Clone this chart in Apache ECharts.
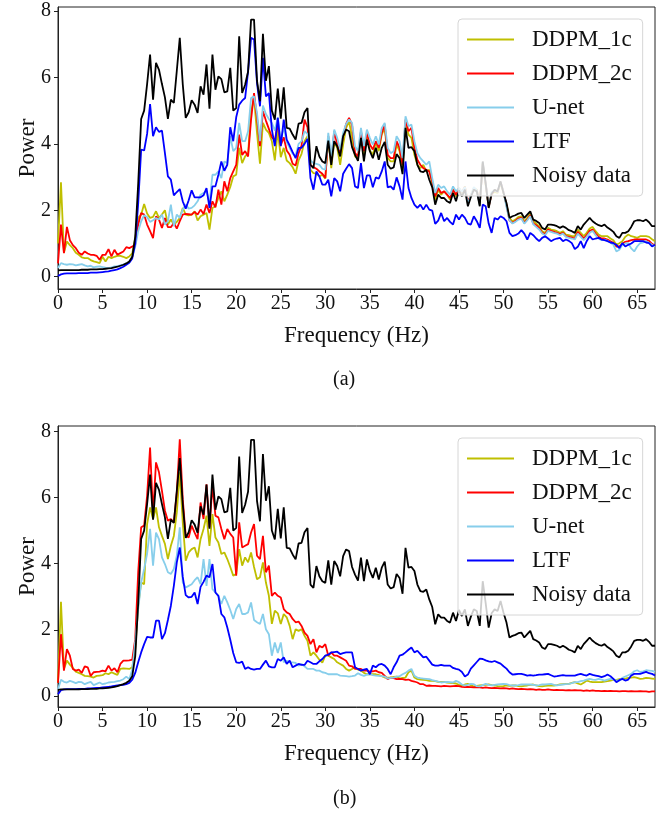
<!DOCTYPE html>
<html>
<head>
<meta charset="utf-8">
<script src="https://cdn.jsdelivr.net/npm/echarts@6/dist/echarts.min.js"></script>
<style>
html,body{margin:0;padding:0;background:#fff;}
#chart{width:671px;height:818px;}
</style>
</head>
<body>
<div id="chart"></div>
<script>
// Frequency grid: spectrum sampled every 1/3 Hz from 0 to 67 Hz (202 bins)
const FREQ_STEP_HZ = 1 / 3;
const N_BINS = 202;

const seriesNames = ['DDPM_1c', 'DDPM_2c', 'U-net', 'LTF', 'Noisy data'];
const xTicks = [0, 5, 10, 15, 20, 25, 30, 35, 40, 45, 50, 55, 60, 65];
const yTicks = [0, 2, 4, 6, 8];
const captions = ['(a)', '(b)'];

// Noisy data (same in both panels)
const noisy = [
0.19,0.2,0.2,0.2,0.2,0.2,0.2,0.2,0.21,0.21,
0.21,0.22,0.22,0.22,0.23,0.23,0.24,0.25,0.26,0.28,
0.3,0.33,0.36,0.4,0.46,0.6,1.2,2.8,4.75,5.0,
5.8,6.69,5.33,6.44,6.23,5.8,5.4,4.75,5.33,5.23,
6.2,7.19,5.8,4.78,4.95,5.31,5.18,4.93,5.73,5.48,
6.39,5.06,6.69,5.63,6.03,5.95,5.55,5.58,6.29,5.0,
5.08,7.24,5.53,5.78,6.18,7.74,7.74,5.9,5.28,7.31,
5.9,6.34,5.0,4.73,5.66,4.76,5.7,4.48,4.46,4.28,
4.13,4.61,4.63,4.95,5.08,3.37,3.27,3.93,3.62,3.47,
3.42,4.1,3.37,4.08,3.93,3.62,4.23,4.43,4.38,3.9,
3.67,3.49,4.18,3.47,4.13,3.78,3.57,3.88,3.52,3.88,
4.06,3.37,3.25,3.29,3.69,3.57,3.09,4.48,3.88,3.9,
3.78,3.37,3.17,3.15,3.22,2.92,2.69,2.17,2.47,2.37,
2.37,2.27,2.22,2.52,2.27,2.6,2.42,2.62,2.12,2.4,
2.62,2.57,2.12,3.47,2.8,2.07,2.5,2.62,2.57,2.87,
2.52,2.22,1.77,1.82,1.85,1.9,1.92,1.77,1.87,1.97,
1.72,1.68,1.62,1.47,1.42,1.57,1.57,1.55,1.52,1.47,
1.52,1.47,1.4,1.37,1.32,1.52,1.42,1.57,1.67,1.77,
1.67,1.6,1.55,1.52,1.57,1.48,1.42,1.35,1.22,1.17,
1.32,1.32,1.37,1.5,1.67,1.7,1.7,1.67,1.72,1.64,
1.52,1.52];

// Panel (a)
const ddpm1cA = [
1.0,2.84,0.72,1.06,0.95,0.86,0.72,0.66,0.58,0.56,
0.56,0.5,0.46,0.44,0.41,0.6,0.46,0.6,0.56,0.6,
0.63,0.63,0.6,0.56,0.61,0.7,1.16,1.77,1.87,2.19,
1.9,1.77,1.8,1.97,1.77,1.87,2.0,1.57,1.72,1.57,
1.65,1.77,2.07,1.87,1.85,1.87,1.97,1.69,1.82,1.87,
1.92,1.42,2.07,2.12,2.37,2.57,2.27,2.47,2.7,3.02,
3.07,3.88,3.42,3.62,3.72,4.98,5.38,4.33,3.4,4.63,
4.43,4.33,4.08,3.5,4.4,3.6,3.88,3.5,3.42,3.3,
3.1,3.5,3.7,4.08,4.23,3.22,3.12,3.1,3.02,3.07,
2.95,4.18,3.27,4.05,3.88,3.37,3.98,4.48,4.68,4.18,
3.62,3.57,4.28,3.62,4.23,3.8,3.67,4.03,3.78,4.28,
4.48,3.57,3.47,3.47,3.98,3.78,3.27,4.63,4.28,4.18,
3.67,3.37,3.27,3.37,3.17,3.22,2.77,2.32,2.62,2.47,
2.57,2.47,2.32,2.62,2.42,2.67,2.52,2.72,2.22,2.45,
2.67,2.62,2.17,3.42,2.75,2.12,2.5,2.55,2.52,2.82,
2.52,2.17,1.77,1.67,1.72,1.8,1.82,1.67,1.77,1.92,
1.67,1.6,1.52,1.37,1.32,1.47,1.42,1.4,1.37,1.32,
1.37,1.27,1.25,1.22,1.22,1.42,1.32,1.22,1.32,1.45,
1.5,1.37,1.27,1.22,1.22,1.22,1.15,1.1,0.96,1.01,
1.07,1.2,1.27,1.22,1.2,1.17,1.22,1.22,1.22,1.2,
1.13,1.07];

const ddpm2cA = [
0.4,1.57,0.71,1.5,1.1,0.95,0.86,0.72,0.66,0.76,
0.7,0.66,0.66,0.63,0.51,0.66,0.66,0.83,0.61,0.81,
0.66,0.71,0.76,0.89,0.86,0.91,0.96,1.57,1.92,1.87,
1.57,1.37,1.16,1.82,1.72,1.47,1.77,1.49,1.49,1.62,
1.45,1.67,1.87,1.89,1.88,1.87,1.95,1.87,2.02,1.89,
2.17,1.92,2.27,2.09,2.62,2.17,2.87,2.57,2.97,3.17,
3.37,4.28,3.67,3.78,3.62,4.73,5.53,4.78,3.93,4.98,
4.7,4.45,4.2,4.1,4.6,3.95,4.2,3.8,3.67,3.4,
3.35,3.72,3.95,4.73,4.5,3.35,3.3,3.25,3.17,3.1,
2.97,4.23,3.47,4.38,3.98,3.72,4.23,4.6,4.78,4.58,
3.72,3.62,4.38,3.78,4.33,3.98,3.83,4.08,3.88,4.33,
4.58,3.67,3.57,3.57,4.08,3.88,3.37,4.73,4.38,4.48,
3.88,3.52,3.37,3.27,3.22,3.17,2.87,2.42,2.67,2.52,
2.57,2.47,2.37,2.62,2.47,2.65,2.55,2.7,2.25,2.45,
2.65,2.6,2.2,3.4,2.8,2.1,2.5,2.6,2.55,2.85,
2.55,2.15,1.7,1.62,1.68,1.75,1.78,1.62,1.72,1.85,
1.6,1.55,1.47,1.32,1.28,1.42,1.38,1.35,1.32,1.28,
1.32,1.22,1.2,1.18,1.15,1.35,1.25,1.15,1.25,1.38,
1.42,1.3,1.2,1.15,1.15,1.12,1.07,1.02,0.91,0.91,
0.99,1.05,1.07,1.1,1.12,1.12,1.12,1.12,1.12,1.08,
0.99,0.93];

const unetA = [
0.26,0.41,0.38,0.36,0.38,0.37,0.34,0.36,0.38,0.34,
0.31,0.33,0.28,0.3,0.31,0.29,0.27,0.26,0.28,0.31,
0.32,0.34,0.36,0.4,0.45,0.6,0.9,1.37,1.67,1.85,
1.8,1.65,1.7,1.77,1.72,1.87,1.57,1.67,2.17,1.52,
1.87,1.77,2.02,2.17,2.05,2.07,2.15,2.27,2.47,2.52,
2.57,2.22,3.07,3.07,3.17,2.97,3.47,3.42,4.23,3.78,
3.88,4.63,4.08,4.08,4.38,5.38,5.43,4.93,4.08,5.15,
4.9,4.75,4.63,4.4,4.8,4.1,4.5,4.05,3.88,3.7,
3.65,4.0,4.08,4.38,4.3,3.5,3.42,3.4,3.37,3.25,
3.22,4.33,3.62,4.43,4.18,3.83,4.33,4.6,4.73,4.63,
3.93,3.78,4.48,3.93,4.43,4.18,3.98,4.23,3.98,4.48,
4.63,3.88,3.72,3.78,4.23,4.08,3.57,4.83,4.53,4.58,
4.08,3.72,3.57,3.47,3.37,3.47,2.97,2.52,2.77,2.67,
2.72,2.57,2.47,2.72,2.57,2.67,2.55,2.7,2.2,2.45,
2.7,2.6,2.15,3.45,2.8,2.1,2.55,2.6,2.55,2.85,
2.55,2.1,1.7,1.6,1.65,1.72,1.75,1.6,1.7,1.82,
1.58,1.5,1.42,1.3,1.25,1.38,1.35,1.32,1.3,1.25,
1.3,1.2,1.17,1.15,1.12,1.3,1.2,1.1,1.2,1.32,
1.38,1.25,1.15,1.1,1.12,1.08,1.02,0.96,0.76,0.81,
0.96,1.0,1.01,0.85,0.76,0.91,1.01,1.03,1.07,1.02,
0.96,0.91];

const ltfA = [
0.02,0.07,0.09,0.1,0.1,0.1,0.1,0.11,0.11,0.11,
0.11,0.12,0.12,0.12,0.13,0.14,0.15,0.16,0.18,0.2,
0.22,0.26,0.3,0.36,0.42,0.55,1.0,2.2,3.83,3.8,
4.3,5.2,4.23,4.5,4.36,4.4,3.72,3.02,2.92,2.45,
2.55,2.64,2.27,2.05,2.3,2.6,2.39,2.39,2.39,2.45,
2.67,2.07,2.72,2.72,3.07,3.47,3.19,3.37,4.5,4.08,
4.8,5.18,5.3,5.38,6.18,7.19,7.14,5.83,5.13,6.59,
5.43,5.53,4.43,3.93,4.78,3.93,4.73,4.13,3.95,3.75,
3.57,3.88,3.88,4.0,4.15,2.97,2.62,3.17,3.02,2.77,
2.77,2.92,2.42,2.97,2.87,2.57,3.1,3.25,3.39,3.27,
2.72,2.67,3.42,2.67,3.05,3.05,2.69,2.99,2.95,3.17,
3.47,2.69,2.72,2.62,2.99,2.72,2.32,3.47,2.67,2.37,
2.17,2.07,2.17,2.02,2.17,2.02,1.99,1.59,1.69,1.92,
1.67,1.77,1.65,1.57,1.87,1.72,1.87,1.77,1.6,1.57,
1.82,1.67,1.47,2.17,2.12,1.6,1.32,1.77,1.72,1.82,
1.77,1.67,1.32,1.22,1.25,1.3,1.4,1.3,1.12,1.32,
1.25,1.15,1.07,1.17,1.22,1.15,1.07,1.12,1.15,1.17,
1.07,1.12,1.08,1.01,0.83,0.9,1.07,0.86,1.07,1.22,
1.12,1.15,1.17,1.12,1.1,1.07,1.03,1.01,0.96,0.86,
1.01,0.91,0.96,1.0,1.07,1.07,1.07,1.07,1.03,1.01,
0.91,0.96];

// Panel (b)
const ddpm1cB = [
0.4,2.85,0.82,1.07,0.95,0.85,0.74,0.7,0.66,0.61,
0.6,0.59,0.56,0.61,0.62,0.63,0.69,0.66,0.72,0.68,
0.64,0.82,0.84,0.83,0.82,0.87,1.42,2.73,3.43,3.38,
5.2,5.7,5.35,5.7,5.1,4.84,4.6,4.14,4.54,4.84,
5.55,6.76,5.25,4.09,4.34,4.44,4.49,4.19,4.74,5.05,
5.45,4.54,5.5,4.79,4.64,4.29,4.34,4.14,3.9,3.64,
3.69,4.44,3.94,4.19,4.04,4.34,3.9,3.53,3.59,4.04,
3.43,3.03,2.18,2.58,2.5,2.18,2.48,2.38,2.12,1.72,
2.02,1.97,2.02,1.82,1.67,1.22,1.32,1.22,1.1,1.01,
1.22,1.22,1.17,1.12,1.02,0.97,0.92,0.82,0.77,0.82,
0.87,0.8,0.77,0.7,0.66,0.66,0.66,0.66,0.63,0.6,
0.56,0.56,0.56,0.58,0.59,0.53,0.55,0.56,0.72,0.77,
0.56,0.51,0.5,0.49,0.48,0.46,0.46,0.45,0.43,0.43,
0.43,0.41,0.4,0.39,0.38,0.34,0.32,0.35,0.37,0.33,
0.29,0.31,0.32,0.33,0.34,0.35,0.33,0.32,0.3,0.29,
0.3,0.32,0.31,0.32,0.32,0.3,0.29,0.31,0.32,0.34,
0.35,0.32,0.3,0.29,0.31,0.32,0.32,0.32,0.33,0.35,
0.36,0.37,0.37,0.4,0.42,0.38,0.35,0.4,0.47,0.44,
0.42,0.42,0.42,0.42,0.44,0.45,0.47,0.49,0.49,0.51,
0.52,0.53,0.55,0.56,0.57,0.55,0.52,0.53,0.55,0.54,
0.53,0.52];

const ddpm2cB = [
0.4,1.87,0.77,1.42,1.22,0.82,0.77,0.8,0.7,0.9,
0.87,0.61,0.72,0.73,0.74,0.77,0.75,0.92,0.77,0.84,
0.72,0.97,1.07,1.07,1.08,1.1,1.72,3.74,5.1,5.15,
6.05,7.51,5.5,7.06,6.76,6.2,5.6,5.3,5.35,5.25,
6.15,7.76,5.95,4.84,4.79,5.15,4.94,4.74,5.85,5.35,
6.4,5.1,6.35,5.45,5.4,5.05,4.74,5.05,4.9,4.79,
3.64,5.25,4.49,4.54,4.59,4.94,5.2,4.24,4.14,4.84,
3.74,3.94,3.03,3.13,3.03,2.98,2.63,2.53,2.48,2.33,
2.23,2.25,2.12,1.92,1.82,1.57,1.72,1.32,1.52,1.47,
1.57,1.22,1.32,1.22,1.22,1.17,1.12,1.07,0.92,0.9,
0.82,0.82,0.82,0.77,0.77,0.74,0.75,0.77,0.72,0.7,
0.61,0.51,0.56,0.54,0.51,0.52,0.51,0.49,0.5,0.46,
0.44,0.41,0.36,0.36,0.31,0.32,0.31,0.31,0.3,0.29,
0.31,0.3,0.29,0.3,0.31,0.3,0.28,0.27,0.28,0.27,
0.26,0.27,0.26,0.25,0.26,0.25,0.24,0.25,0.24,0.23,
0.24,0.23,0.22,0.23,0.22,0.21,0.22,0.21,0.2,0.21,
0.2,0.19,0.2,0.19,0.19,0.2,0.19,0.18,0.19,0.18,
0.18,0.17,0.18,0.17,0.18,0.17,0.17,0.16,0.17,0.16,
0.17,0.16,0.16,0.15,0.16,0.15,0.16,0.15,0.15,0.14,
0.15,0.15,0.14,0.15,0.14,0.14,0.15,0.14,0.14,0.13,
0.14,0.14];

const unetB = [
0.21,0.49,0.43,0.41,0.46,0.43,0.39,0.43,0.42,0.36,
0.4,0.43,0.33,0.37,0.41,0.36,0.38,0.41,0.42,0.43,
0.45,0.47,0.51,0.59,0.51,0.8,1.62,2.63,3.43,3.84,
4.3,5.05,3.94,4.94,4.74,4.19,3.99,3.74,3.69,3.84,
4.24,5.1,3.43,3.28,3.33,3.38,3.5,3.59,3.38,4.14,
3.33,4.14,3.23,3.13,3.03,2.78,3.03,2.83,2.6,2.33,
2.63,2.78,2.48,2.48,2.53,2.83,2.3,2.23,2.18,2.48,
2.02,1.87,1.22,1.62,1.3,1.62,1.02,1.07,1.02,1.02,
1.0,0.92,0.97,0.9,0.82,0.82,0.82,0.77,0.77,0.72,
0.7,0.66,0.66,0.66,0.66,0.62,0.61,0.6,0.59,0.6,
0.62,0.69,0.64,0.61,0.65,0.66,0.63,0.62,0.61,0.6,
0.59,0.53,0.55,0.56,0.59,0.6,0.66,0.7,0.77,0.82,
0.61,0.56,0.54,0.53,0.52,0.51,0.48,0.46,0.44,0.41,
0.42,0.43,0.42,0.41,0.46,0.42,0.35,0.32,0.34,0.37,
0.36,0.3,0.29,0.33,0.37,0.34,0.32,0.34,0.35,0.36,
0.37,0.36,0.33,0.32,0.32,0.33,0.35,0.35,0.35,0.35,
0.34,0.32,0.33,0.35,0.35,0.36,0.37,0.34,0.32,0.34,
0.35,0.36,0.37,0.39,0.42,0.42,0.45,0.47,0.5,0.52,
0.5,0.49,0.52,0.5,0.47,0.5,0.52,0.5,0.47,0.47,
0.55,0.59,0.63,0.67,0.75,0.78,0.73,0.75,0.78,0.77,
0.76,0.73];

const ltfB = [
0.06,0.18,0.2,0.21,0.21,0.21,0.21,0.22,0.22,0.22,
0.23,0.23,0.24,0.25,0.25,0.26,0.27,0.28,0.29,0.31,
0.32,0.33,0.34,0.36,0.4,0.5,0.7,1.02,1.32,1.57,
1.79,1.77,1.77,2.28,2.28,1.72,1.9,2.3,2.73,3.33,
4.04,4.49,3.6,3.05,2.98,3.0,3.13,2.78,3.3,3.45,
3.64,3.59,3.99,3.13,3.03,2.48,2.38,2.07,1.7,1.3,
1.02,1.0,1.04,0.82,0.87,0.82,0.8,0.82,0.82,0.95,
1.07,0.9,0.87,0.87,1.12,1.07,1.17,0.97,1.07,0.87,
0.92,0.97,0.94,0.94,1.07,1.02,0.97,0.97,1.05,1.12,
1.22,1.25,1.32,1.33,1.34,1.27,1.3,1.32,1.32,1.32,
0.87,0.82,0.77,0.8,0.82,0.66,0.92,0.87,0.95,0.97,
0.92,0.82,0.66,0.87,1.02,1.22,1.25,1.32,1.4,1.47,
1.32,1.37,1.27,1.17,1.19,1.07,0.95,0.92,0.92,0.94,
0.92,0.92,0.92,0.85,0.82,0.8,0.73,0.59,0.65,0.83,
0.93,1.03,1.13,1.12,1.08,1.05,1.03,1.06,1.02,0.98,
0.9,0.83,0.72,0.65,0.66,0.67,0.67,0.65,0.62,0.63,
0.62,0.63,0.65,0.65,0.66,0.67,0.63,0.59,0.6,0.62,
0.63,0.62,0.62,0.62,0.62,0.65,0.67,0.64,0.62,0.67,
0.64,0.62,0.6,0.57,0.6,0.65,0.6,0.52,0.42,0.48,
0.52,0.47,0.5,0.62,0.67,0.67,0.67,0.7,0.73,0.69,
0.67,0.62];

// ---------- build chart ----------
const freq = Array.from({length: N_BINS}, (_, i) => i * FREQ_STEP_HZ);
const pair = arr => arr.map((v, i) => [freq[i], v]);

const FONT = '"Liberation Serif", "Times New Roman", serif';
const colors = ['#bfbf00', '#ff0000', '#87ceeb', '#0000ff', '#000000'];
const panels = [
  {data: [ddpm1cA, ddpm2cA, unetA, ltfA, noisy], top: 7, height: 282, ymin: -0.37, ymax: 8.12, legendTop: 19, capY: 381},
  {data: [ddpm1cB, ddpm2cB, unetB, ltfB, noisy], top: 426, height: 281, ymin: -0.33, ymax: 8.16, legendTop: 438, capY: 800}
];

const grids = [], xAxes = [], yAxes = [], series = [], legends = [], graphics = [];
panels.forEach((p, k) => {
  grids.push({left: 58, right: 16, top: p.top, height: p.height, show: true,
    borderColor: '#222', borderWidth: 1, backgroundColor: '#fff'});
  xAxes.push({
    type: 'value', gridIndex: k, min: 0, max: 67, interval: xTicks[1] - xTicks[0],
    axisLine: {onZero: false, lineStyle: {color: '#222', width: 1}},
    axisTick: {inside: false, length: 4, lineStyle: {color: '#222'}},
    axisLabel: {showMaxLabel: false, margin: 5, color: '#111', fontFamily: FONT, fontSize: 20,
      formatter: v => xTicks.includes(v) ? String(v) : ''},
    splitLine: {show: false},
    name: 'Frequency (Hz)', nameLocation: 'middle', nameGap: 35, nameMoveOverlap: false,
    nameTextStyle: {fontFamily: FONT, fontSize: 23, color: '#111'}
  });
  yAxes.push({
    type: 'value', gridIndex: k, min: p.ymin, max: p.ymax, splitNumber: 4,
    axisLine: {show: true, onZero: false, lineStyle: {color: '#222', width: 1}},
    axisTick: {show: true, inside: false, length: 4, lineStyle: {color: '#222'},
      customValues: yTicks},
    axisLabel: {margin: 7, color: '#111', fontFamily: FONT, fontSize: 20,
      customValues: yTicks, formatter: v => String(v)},
    splitLine: {show: false},
    name: 'Power', nameLocation: 'middle', nameGap: 19, nameMoveOverlap: false,
    nameTextStyle: {fontFamily: FONT, fontSize: 23, color: '#111'}
  });
  p.data.forEach((arr, j) => {
    series.push({
      type: 'line', name: seriesNames[j], xAxisIndex: k, yAxisIndex: k,
      data: pair(arr), showSymbol: false, symbol: 'none', smooth: false,
      lineStyle: {color: colors[j], width: 1.8}, itemStyle: {color: colors[j]},
      z: 2, zlevel: 0, animation: false, silent: true
    });
  });
  legends.push({
    orient: 'vertical', left: 458, top: p.legendTop, data: seriesNames,
    icon: 'rect', itemWidth: 47, itemHeight: 2.2, itemGap: 11,
    padding: [9, 11, 9, 9], z: 20,
    backgroundColor: 'rgba(255,255,255,0.8)', borderColor: '#d6d6d6', borderWidth: 1, borderRadius: 4,
    selectedMode: false,
    textStyle: {fontFamily: FONT, fontSize: 23, color: '#111', lineHeight: 22, padding: [0, 0, 0, 13]}
  });
  graphics.push({type: 'text', left: 333, top: p.capY - 11,
    style: {text: captions[k], font: '20px ' + FONT, fill: '#111'}});
});

const chart = echarts.init(document.getElementById('chart'), null, {renderer: 'canvas'});
chart.setOption({
  backgroundColor: '#fff', animation: false,
  grid: grids, xAxis: xAxes, yAxis: yAxes, series: series, legend: legends, graphic: graphics
});
</script>
</body>
</html>
